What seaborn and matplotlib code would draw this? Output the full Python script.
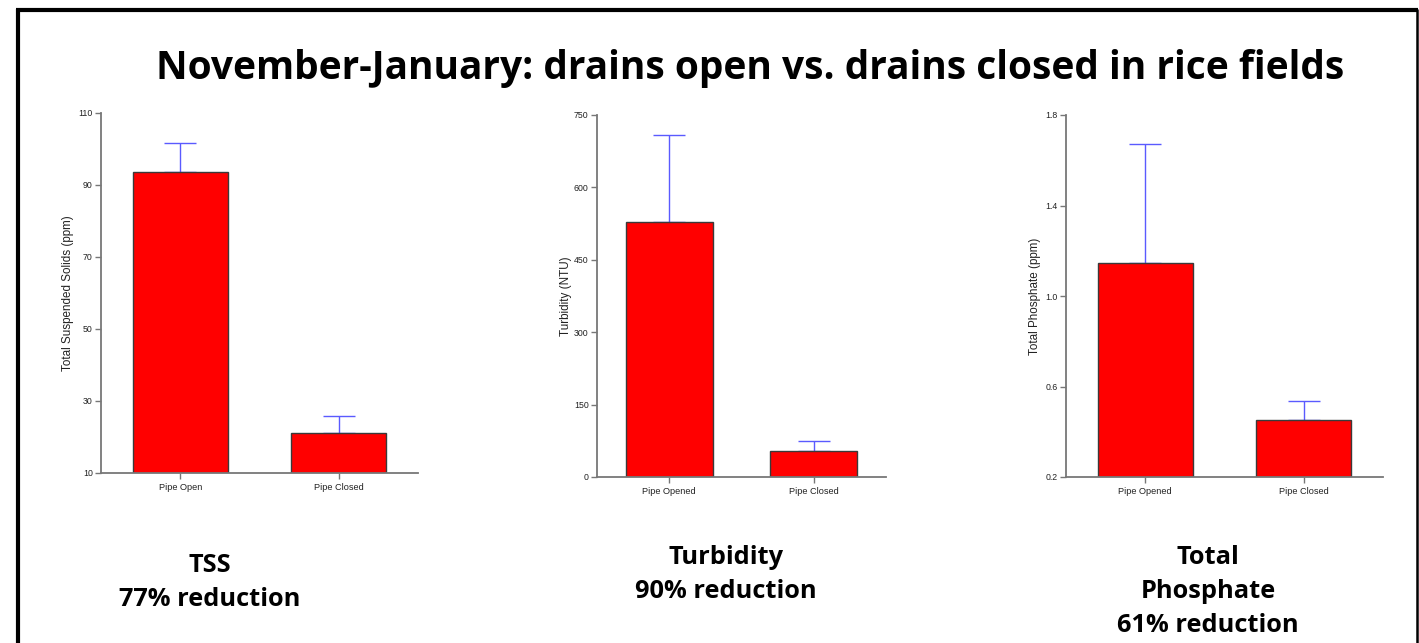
import numpy as np
import pandas as pd
import matplotlib
matplotlib.use('Agg')
import matplotlib.pyplot as plt
import seaborn as sns
from matplotlib.lines import Line2D

sns.set_style('ticks')
plt.rcParams['font.family'] = ['Liberation Sans', 'DejaVu Sans']
plt.rcParams['text.color'] = 'black'

#%% Data
tss_groups = ['Pipe Open', 'Pipe Closed']
tss_mean = [93.5, 21.0]
tss_err = [8.2, 4.9]

turb_groups = ['Pipe Opened', 'Pipe Closed']
turb_mean = [528, 53]
turb_err = [180, 22]

tp_groups = ['Pipe Opened', 'Pipe Closed']
tp_mean = [1.146, 0.454]
tp_err = [0.527, 0.082]

tss_ticks = [10, 30, 50, 70, 90, 110]
turb_ticks = [0, 150, 300, 450, 600, 750]
tp_ticks = [0.2, 0.6, 1.0, 1.4, 1.8]
tp_ticklabels = ['0.2', '0.6', '1.0', '1.4', '1.8']

W, H = 1419, 643
fig = plt.figure(figsize=(W / 100, H / 100), dpi=100)

def px_axes(left, right, top, bottom):
    return fig.add_axes([left / W, 1 - bottom / H, (right - left) / W, (bottom - top) / H])

panels = [
    (px_axes(101, 418, 113, 473), tss_groups, tss_mean, tss_err, tss_ticks, None,
     'Total Suspended Solids (ppm)', 3.5),
    (px_axes(597, 886, 115, 477), turb_groups, turb_mean, turb_err, turb_ticks, None,
     'Turbidity (NTU)', 1.5),
    (px_axes(1066, 1383, 115, 477), tp_groups, tp_mean, tp_err, tp_ticks, tp_ticklabels,
     'Total Phosphate (ppm)', 3.5),
]

axis_grey = '#777777'
for ax, groups, means, errs, ticks, ticklabels, ylabel, pad in panels:
    df = pd.DataFrame({'group': groups, 'value': means})
    sns.barplot(data=df, x='group', y='value', color='#ff0000', saturation=1,
                width=0.6, edgecolor='#3a3a3a', linewidth=1.0, errorbar=None,
                ax=ax, zorder=2)
    # error bars go up only; the bar hides the lower half
    ax.errorbar(x=np.arange(len(groups)), y=means, yerr=[np.zeros(len(errs)), errs],
                fmt='none', ecolor='#5a5aff', elinewidth=1.0, capsize=11.5,
                capthick=1.0, zorder=1)
    ax.set_xlim(-0.5, 1.5)
    ax.set_ylim(ticks[0], ticks[-1])
    ax.set_yticks(ticks)
    if ticklabels is not None:
        ax.set_yticklabels(ticklabels)
    ax.set_xlabel('')
    ax.set_ylabel(ylabel, fontsize=8.4, color='#222222', labelpad=pad)
    sns.despine(ax=ax)
    for s in ['left', 'bottom']:
        ax.spines[s].set_color(axis_grey)
        ax.spines[s].set_linewidth(1.3)
    ax.tick_params(axis='y', length=4, width=1, color=axis_grey, labelsize=6.3,
                   labelcolor='#222222', pad=2)
    ax.tick_params(axis='x', length=4, width=1, color=axis_grey, labelsize=6.6,
                   labelcolor='#222222', pad=3)

#%% Title, captions and frame
fig.text(750 / W, 1 - 68 / H, 'November-January: drains open vs. drains closed in rice fields',
         ha='center', va='center', fontsize=28, fontweight='bold',
         family=['Open Sans', 'DejaVu Sans'])

captions = [
    (210, [565, 599], ['TSS', '77% reduction']),
    (726, [558, 592], ['Turbidity', '90% reduction']),
    (1208, [558, 592, 626], ['Total', 'Phosphate', '61% reduction']),
]
for x, ys, lines in captions:
    for y, line in zip(ys, lines):
        fig.text(x / W, 1 - y / H, line, ha='center', va='center', fontsize=18.3,
                 fontweight='bold', family=['Open Sans', 'DejaVu Sans'])

fig.add_artist(Line2D([16 / W, 1418 / W], [1 - 10 / H, 1 - 10 / H], color='black',
                      linewidth=3, solid_capstyle='butt'))
fig.add_artist(Line2D([18 / W, 18 / W], [0, 1 - 8.5 / H], color='black',
                      linewidth=3, solid_capstyle='butt'))
fig.add_artist(Line2D([1416.5 / W, 1416.5 / W], [0, 1 - 8.5 / H], color='black',
                      linewidth=1.8, solid_capstyle='butt'))

fig.savefig('out.png', dpi=100)
